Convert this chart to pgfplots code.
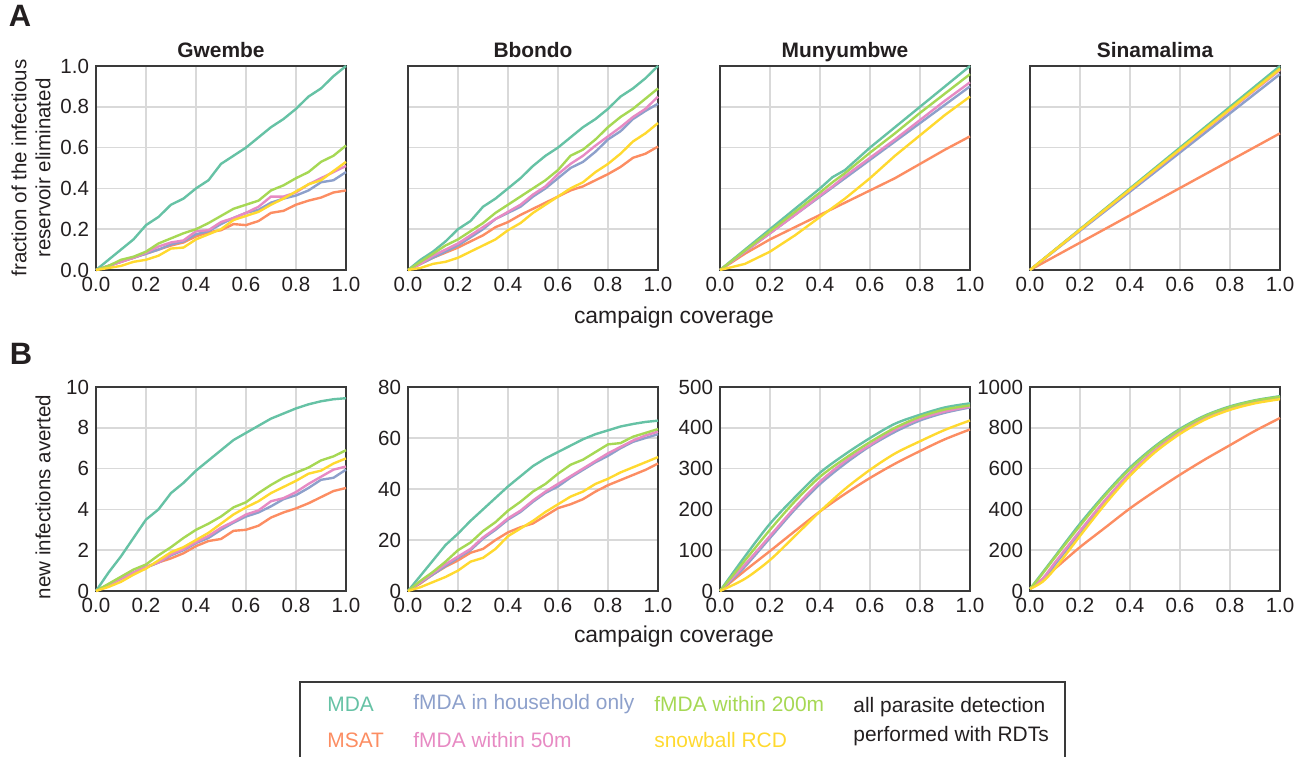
\documentclass[border=0pt]{standalone}
\usepackage{pgfplots}
\usepackage{pgfplotstable}
\pgfplotsset{compat=1.18}
\usepackage{fontspec}
\setmainfont{Liberation Sans}
\definecolor{mdac}{HTML}{66C2A5}
\definecolor{msatc}{HTML}{FC8D62}
\definecolor{hhc}{HTML}{8DA0CB}
\definecolor{mfc}{HTML}{E78AC3}
\definecolor{mtc}{HTML}{A6D854}
\definecolor{snc}{HTML}{FFD92F}
\definecolor{gridc}{HTML}{D9D9D9}
\definecolor{axc}{HTML}{3A3A3A}
\definecolor{txc}{HTML}{231F20}

\pgfplotstableread{
x mda msat hh mf mt sn
0 0 0 0 0 0 0
0.05 0.05 0.02 0.02 0.02 0.02 0.01
0.10 0.10 0.04 0.04 0.04 0.05 0.02
0.15 0.15 0.06 0.06 0.06 0.065 0.04
0.20 0.22 0.08 0.08 0.085 0.09 0.05
0.25 0.26 0.10 0.10 0.115 0.13 0.07
0.30 0.32 0.12 0.125 0.135 0.155 0.105
0.35 0.35 0.135 0.14 0.145 0.18 0.11
0.40 0.40 0.165 0.175 0.19 0.20 0.15
0.45 0.44 0.185 0.19 0.195 0.23 0.175
0.50 0.52 0.195 0.225 0.235 0.265 0.20
0.55 0.56 0.225 0.255 0.255 0.30 0.245
0.60 0.60 0.22 0.28 0.28 0.32 0.265
0.65 0.65 0.24 0.295 0.31 0.34 0.285
0.70 0.70 0.28 0.33 0.36 0.39 0.32
0.75 0.74 0.29 0.35 0.36 0.415 0.35
0.80 0.79 0.32 0.365 0.38 0.45 0.385
0.85 0.85 0.34 0.39 0.42 0.48 0.42
0.90 0.89 0.355 0.43 0.45 0.53 0.44
0.95 0.95 0.38 0.44 0.48 0.56 0.485
1.00 1.00 0.39 0.48 0.51 0.61 0.53
}\gwA

\pgfplotstableread{
x mda msat hh mf mt sn
0 0 0 0 0 0 0
0.05 0.05 0.03 0.03 0.03 0.04 0.01
0.10 0.09 0.06 0.06 0.07 0.08 0.03
0.15 0.14 0.085 0.09 0.10 0.12 0.04
0.20 0.20 0.11 0.12 0.13 0.15 0.06
0.25 0.24 0.14 0.16 0.17 0.19 0.09
0.30 0.31 0.17 0.20 0.21 0.23 0.12
0.35 0.35 0.21 0.25 0.25 0.28 0.15
0.40 0.40 0.235 0.28 0.285 0.32 0.195
0.45 0.45 0.27 0.31 0.32 0.36 0.23
0.50 0.51 0.30 0.36 0.37 0.40 0.28
0.55 0.56 0.33 0.40 0.41 0.44 0.32
0.60 0.60 0.36 0.45 0.47 0.49 0.36
0.65 0.65 0.39 0.50 0.52 0.56 0.40
0.70 0.70 0.41 0.53 0.56 0.59 0.43
0.75 0.74 0.44 0.58 0.61 0.64 0.48
0.80 0.79 0.47 0.64 0.655 0.70 0.52
0.85 0.85 0.505 0.68 0.70 0.75 0.57
0.90 0.89 0.55 0.74 0.75 0.79 0.63
0.95 0.94 0.57 0.78 0.79 0.84 0.67
1.00 1.00 0.605 0.815 0.85 0.89 0.72
}\bbA

\pgfplotstableread{
x mda msat hh mf mt sn
0 0 0 0 0 0 0
0.1 0.10 0.08 0.09 0.09 0.095 0.03
0.2 0.20 0.15 0.18 0.18 0.19 0.09
0.3 0.30 0.21 0.27 0.27 0.285 0.17
0.4 0.40 0.27 0.36 0.365 0.38 0.26
0.45 0.455 0.30 0.405 0.41 0.43 0.305
0.5 0.49 0.33 0.45 0.46 0.475 0.35
0.6 0.60 0.39 0.54 0.55 0.575 0.45
0.7 0.70 0.45 0.63 0.64 0.67 0.56
0.8 0.80 0.52 0.72 0.735 0.77 0.66
0.9 0.90 0.59 0.81 0.83 0.865 0.76
1.0 1.00 0.655 0.90 0.92 0.96 0.85
}\muA

\pgfplotstableread{
x mda msat hh mf mt sn
0 0 0 0 0 0 0
0.2 0.20 0.134 0.192 0.196 0.198 0.197
0.4 0.40 0.268 0.384 0.392 0.396 0.394
0.6 0.60 0.402 0.576 0.588 0.594 0.591
0.8 0.80 0.536 0.768 0.784 0.792 0.788
1.0 1.00 0.67 0.96 0.98 0.99 0.985
}\siA

\pgfplotstableread{
x mda msat hh mf mt sn
0 0 0 0 0 0 0
0.05 0.9 0.3 0.3 0.3 0.35 0.2
0.10 1.7 0.6 0.6 0.6 0.7 0.45
0.15 2.6 0.9 0.9 0.9 1.05 0.8
0.20 3.5 1.15 1.15 1.2 1.3 1.1
0.25 4.0 1.4 1.4 1.4 1.75 1.5
0.30 4.8 1.6 1.75 1.8 2.15 1.9
0.35 5.3 1.85 2.0 2.05 2.6 2.15
0.40 5.9 2.2 2.35 2.4 3.0 2.5
0.45 6.4 2.45 2.6 2.7 3.3 2.85
0.50 6.9 2.55 3.0 3.1 3.65 3.3
0.55 7.4 2.95 3.35 3.4 4.1 3.75
0.60 7.75 3.0 3.65 3.75 4.35 4.1
0.65 8.1 3.2 3.85 3.95 4.8 4.4
0.70 8.45 3.6 4.15 4.4 5.2 4.8
0.75 8.7 3.85 4.5 4.55 5.55 5.1
0.80 8.95 4.05 4.7 4.85 5.8 5.4
0.85 9.15 4.3 5.05 5.25 6.05 5.75
0.90 9.3 4.6 5.45 5.6 6.4 5.9
0.95 9.4 4.9 5.55 5.95 6.6 6.25
1.00 9.45 5.05 5.95 6.1 6.9 6.5
}\gwB

\pgfplotstableread{
x mda msat hh mf mt sn
0 0 0 0 0 0 0
0.05 6 3 3.3 3.5 4 1.5
0.10 12 6.5 6.5 7 7.5 3.5
0.15 18 9.5 9.8 10.5 11.5 5.5
0.20 22.5 12 13 13.5 16 8
0.25 27.5 15 16 16.5 19 11.5
0.30 32 16.5 20.5 21 23.5 13
0.35 36.5 20 24 24.5 27 16.5
0.40 41 23 28 28.5 31.5 21.5
0.45 45 25 31 31.5 35 24.5
0.50 49 26.5 35 35.5 39 27.5
0.55 52 29.5 38.5 39 42 31
0.60 54.5 32.5 41 42 46 34
0.65 57 34 44.5 45 49.5 37
0.70 59.5 36 47.5 48 51.5 39
0.75 61.5 39 50.5 51 54.5 42
0.80 63 41.5 53 54 57.5 44
0.85 64.5 43.5 56 56.5 58 46.5
0.90 65.5 45.5 58.5 59 60.5 48.5
0.95 66.3 47.5 60 61 62 50.5
1.00 66.8 50 61.5 62.5 63.5 52.5
}\bbB

\pgfplotstableread{
x mda msat hh mf mt sn
0 0 0 0 0 0 0
0.1 85 50 60 65 75 30
0.2 165 98 130 135 150 76
0.3 230 147 200 205 220 135
0.4 290 195 262 268 280 195
0.5 335 238 312 318 325 250
0.6 375 277 355 358 365 297
0.7 410 312 390 395 400 337
0.8 432 343 418 422 427 367
0.9 450 372 437 440 445 395
1.0 460 396 450 452 455 418
}\muB

\pgfplotstableread{
x mda msat hh mf mt sn
0 10 10 10 10 10 10
0.05 90 60 55 60 85 45
0.1 170 110 130 140 165 110
0.2 330 215 285 295 320 270
0.3 475 310 435 445 468 425
0.4 605 405 570 580 598 565
0.5 710 490 685 690 705 680
0.6 795 570 775 780 790 770
0.7 860 645 845 850 857 840
0.8 905 715 893 895 902 888
0.9 935 785 925 928 933 920
1.0 955 848 946 948 952 940
}\siB

\pgfplotsset{
  panel/.style={
    width=125bp, height=102bp, scale only axis,
    xmin=0, xmax=1, xtick={0,0.2,0.4,0.6,0.8,1},
    grid=major,
    major grid style={draw=gridc, line width=0.75bp},
    axis line style={draw=axc, line width=0.8bp},
    tick style={draw=none},
    clip=false,
    anchor=south west,
    /pgf/number format/assume math mode=true,
    /pgf/number format/1000 sep={},
    tick label style={font=\fontsize{10.3}{12}\selectfont, text=txc},
    xticklabel style={/pgf/number format/.cd, fixed, fixed zerofill, precision=1},
    every axis title/.style={at={(0.5,1)}, anchor=base, yshift=4.3bp, inner sep=0pt,
      font=\bfseries\fontsize{10.5}{12}\selectfont, text=txc},
    every axis plot/.append style={line width=1.2bp, no markers},
  },
  rowA/.style={ymin=0, ymax=1, ytick={0,0.2,0.4,0.6,0.8,1},
    yticklabel style={/pgf/number format/.cd, fixed, fixed zerofill, precision=1}},
  noy/.style={yticklabels={}},
}

\newcommand{\allplots}[2]{%
  \addplot[mdac,#2] table[x=x,y=mda]{#1};
  \addplot[msatc,#2] table[x=x,y=msat]{#1};
  \addplot[hhc,#2] table[x=x,y=hh]{#1};
  \addplot[mfc,#2] table[x=x,y=mf]{#1};
  \addplot[mtc,#2] table[x=x,y=mt]{#1};
  \addplot[snc,#2] table[x=x,y=sn]{#1};
}

\begin{document}
\begin{tikzpicture}
\useasboundingbox (0,0) rectangle (651.5bp,378.5bp);

% Row A
\begin{axis}[panel, rowA, at={(48bp,243.5bp)}, title={Gwembe}]
\allplots{\gwA}{}
\end{axis}
\begin{axis}[panel, rowA, noy, at={(204bp,243.5bp)}, title={Bbondo}]
\allplots{\bbA}{}
\end{axis}
\begin{axis}[panel, rowA, noy, at={(360bp,243.5bp)}, title={Munyumbwe}]
\allplots{\muA}{}
\end{axis}
\begin{axis}[panel, rowA, noy, at={(515bp,243.5bp)}, title={Sinamalima}]
\allplots{\siA}{}
\end{axis}

% Row B
\begin{axis}[panel, at={(48bp,83bp)}, ymin=0, ymax=10, ytick={0,2,4,6,8,10}]
\allplots{\gwB}{}
\end{axis}
\begin{axis}[panel, at={(204bp,83bp)}, ymin=0, ymax=80, ytick={0,20,40,60,80}]
\allplots{\bbB}{}
\end{axis}
\begin{axis}[panel, at={(360bp,83bp)}, ymin=0, ymax=500, ytick={0,100,200,300,400,500}]
\allplots{\muB}{smooth}
\end{axis}
\begin{axis}[panel, at={(515bp,83bp)}, ymin=0, ymax=1000, ytick={0,200,400,600,800,1000}]
\allplots{\siB}{smooth}
\end{axis}

% panel letters
\node[font=\bfseries\fontsize{15.5}{18}\selectfont, text=txc] at (10bp,370.5bp) {A};
\node[font=\bfseries\fontsize{15.5}{18}\selectfont, text=txc] at (10.5bp,201.5bp) {B};

% axis labels
\node[rotate=90, align=center, font=\fontsize{10.3}{12}\selectfont, text=txc] at (15.5bp,294.5bp)
  {fraction of the infectious\\reservoir eliminated};
\node[rotate=90, font=\fontsize{10.3}{12}\selectfont, text=txc] at (21.5bp,130bp) {new infections averted};
\node[font=\fontsize{11.5}{13}\selectfont, text=txc] at (337bp,219.5bp) {campaign coverage};
\node[font=\fontsize{11.5}{13}\selectfont, text=txc] at (337bp,60bp) {campaign coverage};

% legend box
\draw[axc, line width=0.8bp] (150bp,-1bp) -- (150bp,37.5bp) -- (532.5bp,37.5bp) -- (532.5bp,-1bp);
\begin{scope}[every node/.style={anchor=west, inner sep=0pt, font=\fontsize{10.5}{12}\selectfont}]
\node[text=mdac] at (163.5bp,26.5bp) {MDA};
\node[text=msatc] at (163.5bp,8.5bp) {MSAT};
\node[text=hhc] at (206.5bp,26.5bp) {fMDA in household only};
\node[text=mfc] at (206.5bp,8.5bp) {fMDA within 50m};
\node[text=mtc] at (327bp,26.5bp) {fMDA within 200m};
\node[text=snc] at (327bp,8.5bp) {snowball RCD};
\node[text=txc, align=left, font=\fontsize{10.5}{14.5}\selectfont] at (426.5bp,17.5bp) {all parasite detection\\performed with RDTs};
\end{scope}
\end{tikzpicture}
\end{document}
